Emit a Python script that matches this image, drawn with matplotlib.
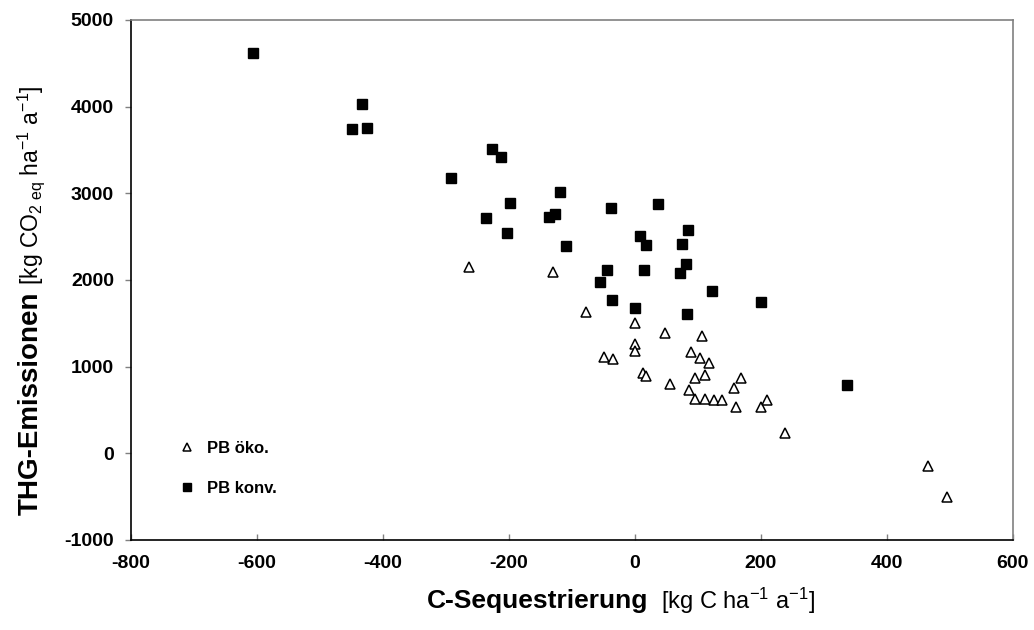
import matplotlib
matplotlib.use('Agg')
import matplotlib.pyplot as plt

plt.rcParams['font.family'] = ['Liberation Sans', 'DejaVu Sans']
plt.rcParams['axes.unicode_minus'] = False
plt.rcParams['mathtext.fontset'] = 'custom'
plt.rcParams['mathtext.rm'] = 'Liberation Sans'
plt.rcParams['mathtext.it'] = 'Liberation Sans'
plt.rcParams['mathtext.bf'] = 'Liberation Sans:bold'

# PB öko. (Dreiecke)
oeko_x = [-264, -130, -78, 1, 48, 106, 0, 0, -49, -35, 89, 104, 118, 13, 18,
          95, 112, 169, 56, 86, 157, 96, 112, 125, 139, 160, 200, 210, 239, 465, 495]
oeko_y = [2153, 2095, 1627, 1503, 1385, 1353, 1258, 1184, 1115, 1085, 1165, 1096, 1045, 930, 892,
          872, 900, 865, 800, 734, 750, 627, 623, 615, 618, 534, 538, 615, 238, -147, -501]

# PB konv. (Quadrate)
konv_x = [-607, -433, -449, -425, -292, -227, -212, -119, -199, -237, -127, -137, -38, 36, -203,
          -109, 9, 18, 84, 75, -44, 14, 82, 71, -56, 122, 200, -37, 0, 83, 337]
konv_y = [4615, 4030, 3738, 3750, 3176, 3508, 3415, 3015, 2885, 2718, 2765, 2730, 2827, 2873, 2542,
          2395, 2507, 2403, 2576, 2418, 2115, 2118, 2188, 2084, 1973, 1869, 1742, 1769, 1677, 1604, 788]

x_ticks = [-800, -600, -400, -200, 0, 200, 400, 600]
y_ticks = [-1000, 0, 1000, 2000, 3000, 4000, 5000]


fig = plt.figure(figsize=(10.34, 6.30), dpi=100)
ax = fig.add_axes([0.1267, 0.1429, 0.8527, 0.8254])

ax.plot(oeko_x, oeko_y, linestyle='none', marker='^', markersize=7.2,
        markerfacecolor='white', markeredgecolor='black', markeredgewidth=1.1,
        label='PB öko.')
ax.plot(konv_x, konv_y, linestyle='none', marker='s', markersize=7.0,
        markerfacecolor='black', markeredgecolor='black', label='PB konv.')

ax.set_xlim(-800, 600)
ax.set_ylim(-1000, 5000)
ax.set_xticks(x_ticks)
ax.set_yticks(y_ticks)

for lbl in ax.get_xticklabels() + ax.get_yticklabels():
    lbl.set_fontweight('bold')
ax.tick_params(axis='x', direction='in', length=4.3, width=1, color='#808080',
               pad=10.5, labelsize=14)
ax.tick_params(axis='y', direction='out', length=4.3, width=1, color='#808080',
               pad=8, labelsize=14)

ax.spines['left'].set_color('black')
ax.spines['bottom'].set_color('black')
ax.spines['top'].set_color('#808080')
ax.spines['right'].set_color('#808080')
for s in ax.spines.values():
    s.set_linewidth(1.2)

leg = ax.legend(loc='upper left', bbox_to_anchor=(0.035, 0.219), frameon=False,
                markerscale=0.8, handlelength=1.2, handletextpad=0.6,
                labelspacing=1.5, prop={'weight': 'bold', 'size': 12})

# Achsenbeschriftungen (fett + normal gemischt)
fig.text(0.627, 0.046, 'C-Sequestrierung', ha='right', va='center',
         fontsize=19, fontweight='bold')
fig.text(0.627, 0.046, r'  [kg C ha$^{-1}$ a$^{-1}$]', ha='left', va='center',
         fontsize=17)
fig.text(0.030, 0.538, 'THG-Emissionen', ha='center', va='top', rotation=90,
         fontsize=20, fontweight='bold')
fig.text(0.030, 0.538, r' [kg CO$_{2\ \mathrm{eq}}$ ha$^{-1}$ a$^{-1}$]', ha='center',
         va='bottom', rotation=90, fontsize=16.5)

fig.savefig('out.png', dpi=100)
